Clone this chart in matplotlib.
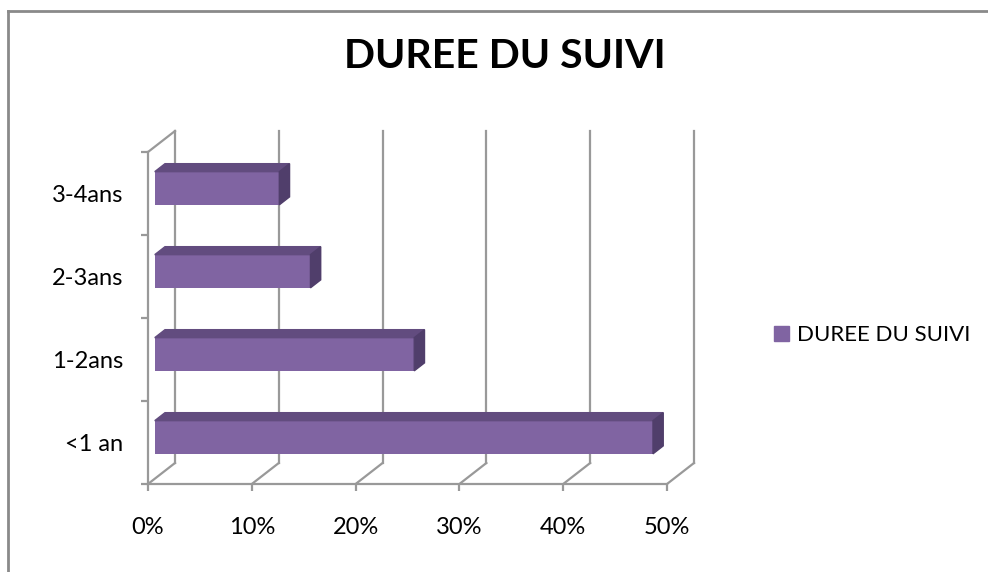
import matplotlib
matplotlib.use("Agg")
import matplotlib.pyplot as plt
from matplotlib.patches import Polygon, Patch
from matplotlib.lines import Line2D

plt.rcParams['font.family'] = ['Lato', 'DejaVu Sans']

# Durée du suivi (en %)
categories = ["<1 an", "1-2ans", "2-3ans", "3-4ans"]
valeurs = [48, 25, 15, 12]
graduations = [0, 10, 20, 30, 40, 50]
serie = "DUREE DU SUIVI"

COULEUR_FACE = "#8064A2"
COULEUR_DESSUS = "#624C7F"
COULEUR_COTE = "#503E6B"
COULEUR_GRILLE = "#999999"

# décalage de profondeur (fond du graphe 3D) en unités de données
DX = 2.6
DY = 0.253
# position des barres dans la profondeur
D0, D1 = 0.25, 0.63

fig = plt.figure(figsize=(9.88, 5.72), dpi=100)
ax = fig.add_axes([148 / 988, 1 - 484 / 572, 519 / 988, 332 / 572])
ax.set_xlim(0, 50)
ax.set_ylim(0, 4)

# cadre extérieur
fig.add_artist(Line2D([8 / 988, 8 / 988], [0, 1 - 11 / 572], transform=fig.transFigure,
                      color="#8a8a8a", lw=2))
fig.add_artist(Line2D([8 / 988, 1], [1 - 11 / 572, 1 - 11 / 572], transform=fig.transFigure,
                      color="#8a8a8a", lw=2))

# mur du fond et sol
for g in graduations:
    ax.plot([g + DX, g + DX], [DY, 4 + DY], color=COULEUR_GRILLE, lw=1.6, clip_on=False, zorder=1)
    ax.plot([g, g + DX], [0, DY], color=COULEUR_GRILLE, lw=1.6, clip_on=False, zorder=1)
ax.plot([0, DX], [4, 4 + DY], color=COULEUR_GRILLE, lw=1.6, clip_on=False, zorder=1)

# barres en pseudo-3D
h = 0.4
for i, v in enumerate(valeurs):
    x0 = D0 * DX
    bas = i + 0.5 - h / 2 + D0 * DY
    haut = bas + h
    ddx = (D1 - D0) * DX
    ddy = (D1 - D0) * DY
    ax.barh(bas + h / 2, v, left=x0, height=h, color=COULEUR_FACE, zorder=3, clip_on=False)
    ax.add_patch(Polygon([(x0, haut), (x0 + v, haut), (x0 + v + ddx, haut + ddy), (x0 + ddx, haut + ddy)],
                         closed=True, color=COULEUR_DESSUS, zorder=3, clip_on=False))
    ax.add_patch(Polygon([(x0 + v, bas), (x0 + v, haut), (x0 + v + ddx, haut + ddy), (x0 + v + ddx, bas + ddy)],
                         closed=True, color=COULEUR_COTE, zorder=3, clip_on=False))

for s in ["top", "right"]:
    ax.spines[s].set_visible(False)
for s in ["left", "bottom"]:
    ax.spines[s].set_color(COULEUR_GRILLE)
    ax.spines[s].set_linewidth(1.6)

ax.set_xticks(graduations)
ax.set_xticklabels([f"{g}%" for g in graduations], fontsize=17)
ax.tick_params(axis="x", length=5, width=1.6, color=COULEUR_GRILLE, pad=19)
ax.set_yticks(range(5))
ax.set_yticklabels([])
ax.set_yticks([i + 0.5 for i in range(4)], minor=True)
ax.set_yticklabels(categories, minor=True, fontsize=17)
ax.tick_params(axis="y", which="major", length=5, width=1.6, color=COULEUR_GRILLE)
ax.tick_params(axis="y", which="minor", length=0, pad=18)

fig.text(505 / 988, 1 - 57 / 572, "DUREE DU SUIVI", ha="center", va="center",
         fontsize=29.5, fontweight="bold")

fig.legend(handles=[Patch(color=COULEUR_FACE, label=serie)], loc="center left",
           bbox_to_anchor=(774 / 988, 1 - 335 / 572), frameon=False, fontsize=16,
           handlelength=0.68, handleheight=0.68, handletextpad=0.35,
           borderpad=0, borderaxespad=0)

fig.savefig("out.png", dpi=100)
